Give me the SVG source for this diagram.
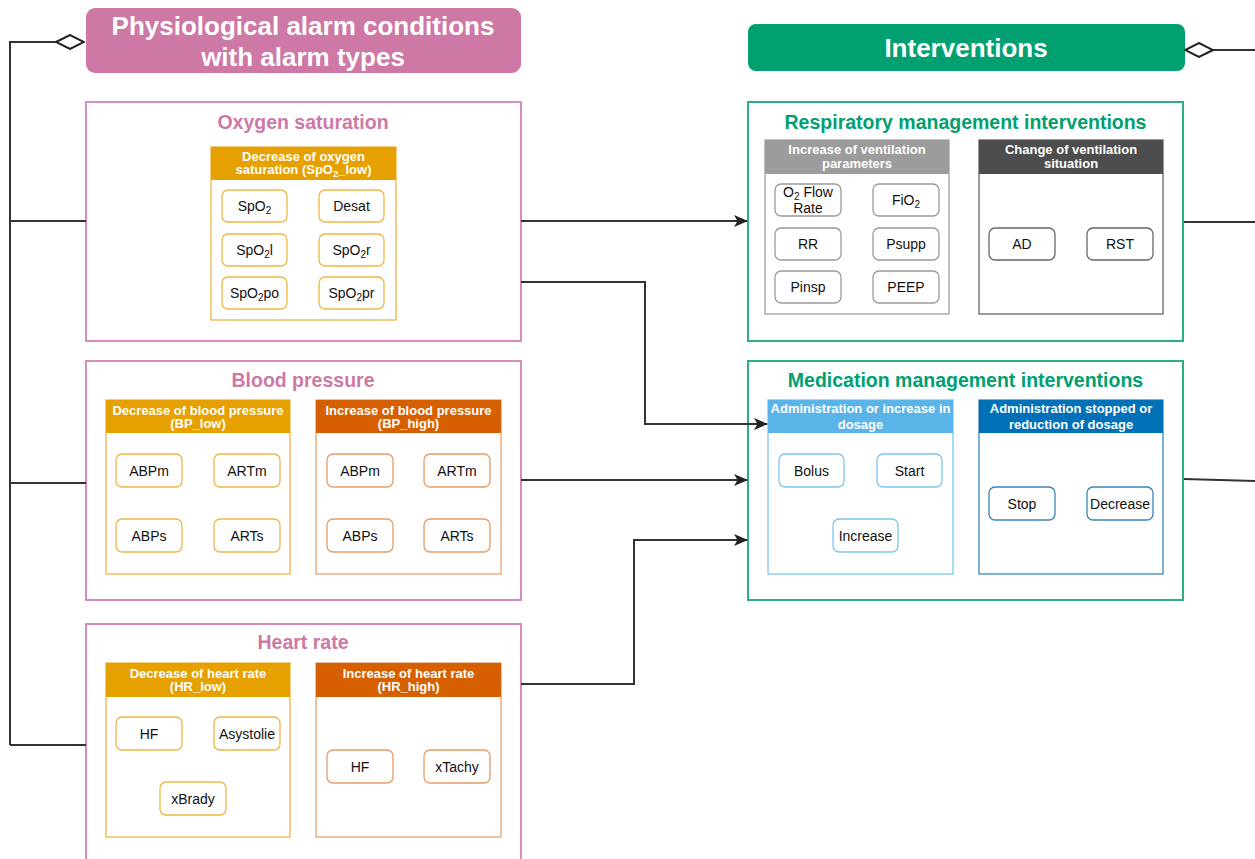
<svg xmlns="http://www.w3.org/2000/svg" width="1255" height="859" viewBox="0 0 1255 859">
  <style>
    text { font-family: "Liberation Sans", Arial, sans-serif; }
    .main-title { font-size: 26px; font-weight: bold; fill: #ffffff; text-anchor: middle; }
    .group-title { font-size: 19.5px; font-weight: bold; text-anchor: middle; }
    .pink-title { fill: #cd78a5; }
    .green-title { fill: #00a070; }
    .head { font-size: 13px; font-weight: bold; fill: #ffffff; text-anchor: middle; }
    .item { font-size: 14px; fill: #111111; text-anchor: middle; }
    .pink-frame { fill: #ffffff; stroke: #d98cba; stroke-width: 2; }
    .green-frame { fill: #ffffff; stroke: #2daf86; stroke-width: 2; }
    .conn { fill: none; stroke: #333333; stroke-width: 2; }
    .chip { fill: #ffffff; stroke-width: 1.3; }
    .c-orange { stroke: #f0b645; }
    .c-dorange { stroke: #e89a68; }
    .c-gray { stroke: #9a9a9a; }
    .c-dgray { stroke: #666666; }
    .c-lblue { stroke: #7cc6ee; }
    .c-dblue { stroke: #3a86bc; }
  </style>
  <defs>
    <marker id="arrow" viewBox="0 0 14 12" refX="13" refY="6" markerWidth="14" markerHeight="12" markerUnits="userSpaceOnUse" orient="auto">
      <path d="M0,0 L14,6 L0,12 L3.5,6 Z" fill="#222222"/>
    </marker>
    <marker id="diamond" viewBox="0 0 30 16" refX="29" refY="8" markerWidth="30" markerHeight="16" markerUnits="userSpaceOnUse" orient="auto">
      <path d="M1,8 L15,1 L29,8 L15,15 Z" fill="#ffffff" stroke="#222222" stroke-width="2"/>
    </marker>
  </defs>

  <!-- left heading -->
  <g id="alarm-conditions-header">
    <rect x="86" y="8" width="435" height="65" rx="9" fill="#cd78a5"/>
    <text class="main-title" x="303" y="35">Physiological alarm conditions</text>
    <text class="main-title" x="303" y="66">with alarm types</text>
  </g>

  <!-- right heading -->
  <g id="interventions-header">
    <rect x="748" y="24" width="437" height="47" rx="8" fill="#00a070"/>
    <text class="main-title" x="966" y="57">Interventions</text>
  </g>

  <!-- Oxygen saturation -->
  <g id="oxygen-saturation">
    <rect class="pink-frame" x="86" y="102" width="435" height="239"/>
    <text class="group-title pink-title" x="303" y="129">Oxygen saturation</text>
    <rect x="211" y="147" width="185" height="173" fill="#ffffff" stroke="#efb448" stroke-width="1.3"/>
    <rect x="211" y="147" width="185" height="33" fill="#e6a000"/>
    <text class="head" x="303.5" y="161">Decrease of oxygen</text>
    <text class="head" x="303.5" y="174">saturation (SpO<tspan font-size="9.5" dy="3">2</tspan><tspan dy="-3">_low)</tspan></text>
    <rect class="chip c-orange" x="222" y="190" width="65" height="32" rx="6"/>
    <text class="item" x="254.5" y="211">SpO<tspan font-size="10" dy="3">2</tspan></text>
    <rect class="chip c-orange" x="319" y="190" width="65" height="32" rx="6"/>
    <text class="item" x="351.5" y="211">Desat</text>
    <rect class="chip c-orange" x="222" y="234" width="65" height="32" rx="6"/>
    <text class="item" x="254.5" y="255">SpO<tspan font-size="10" dy="3">2</tspan><tspan dy="-3">l</tspan></text>
    <rect class="chip c-orange" x="319" y="234" width="65" height="32" rx="6"/>
    <text class="item" x="351.5" y="255">SpO<tspan font-size="10" dy="3">2</tspan><tspan dy="-3">r</tspan></text>
    <rect class="chip c-orange" x="222" y="277" width="65" height="32" rx="6"/>
    <text class="item" x="254.5" y="298">SpO<tspan font-size="10" dy="3">2</tspan><tspan dy="-3">po</tspan></text>
    <rect class="chip c-orange" x="319" y="277" width="65" height="32" rx="6"/>
    <text class="item" x="351.5" y="298">SpO<tspan font-size="10" dy="3">2</tspan><tspan dy="-3">pr</tspan></text>
  </g>

  <!-- Blood pressure -->
  <g id="blood-pressure">
    <rect class="pink-frame" x="86" y="361" width="435" height="239"/>
    <text class="group-title pink-title" x="303" y="387">Blood pressure</text>
    <rect x="106" y="400" width="184" height="174" fill="#ffffff" stroke="#efb448" stroke-width="1.3"/>
    <rect x="106" y="400" width="184" height="33" fill="#e6a000"/>
    <text class="head" x="198" y="415">Decrease of blood pressure</text>
    <text class="head" x="198" y="428">(BP_low)</text>
    <rect class="chip c-orange" x="116" y="454" width="66" height="33" rx="6"/>
    <text class="item" x="149" y="476">ABPm</text>
    <rect class="chip c-orange" x="214" y="454" width="66" height="33" rx="6"/>
    <text class="item" x="247" y="476">ARTm</text>
    <rect class="chip c-orange" x="116" y="519" width="66" height="33" rx="6"/>
    <text class="item" x="149" y="541">ABPs</text>
    <rect class="chip c-orange" x="214" y="519" width="66" height="33" rx="6"/>
    <text class="item" x="247" y="541">ARTs</text>

    <rect x="316" y="400" width="185" height="174" fill="#ffffff" stroke="#e8a070" stroke-width="1.3"/>
    <rect x="316" y="400" width="185" height="33" fill="#d66000"/>
    <text class="head" x="408.5" y="415">Increase of blood pressure</text>
    <text class="head" x="408.5" y="428">(BP_high)</text>
    <rect class="chip c-dorange" x="327" y="454" width="66" height="33" rx="6"/>
    <text class="item" x="360" y="476">ABPm</text>
    <rect class="chip c-dorange" x="424" y="454" width="66" height="33" rx="6"/>
    <text class="item" x="457" y="476">ARTm</text>
    <rect class="chip c-dorange" x="327" y="519" width="66" height="33" rx="6"/>
    <text class="item" x="360" y="541">ABPs</text>
    <rect class="chip c-dorange" x="424" y="519" width="66" height="33" rx="6"/>
    <text class="item" x="457" y="541">ARTs</text>
  </g>

  <!-- Heart rate -->
  <g id="heart-rate">
    <rect class="pink-frame" x="86" y="624" width="435" height="250"/>
    <text class="group-title pink-title" x="303" y="649">Heart rate</text>
    <rect x="106" y="663" width="184" height="174" fill="#ffffff" stroke="#efb448" stroke-width="1.3"/>
    <rect x="106" y="663" width="184" height="34" fill="#e6a000"/>
    <text class="head" x="198" y="678">Decrease of heart rate</text>
    <text class="head" x="198" y="691">(HR_low)</text>
    <rect class="chip c-orange" x="116" y="717" width="66" height="33" rx="6"/>
    <text class="item" x="149" y="739">HF</text>
    <rect class="chip c-orange" x="214" y="717" width="66" height="33" rx="6"/>
    <text class="item" x="247" y="739">Asystolie</text>
    <rect class="chip c-orange" x="160" y="782" width="66" height="33" rx="6"/>
    <text class="item" x="193" y="804">xBrady</text>

    <rect x="316" y="663" width="185" height="174" fill="#ffffff" stroke="#e8a070" stroke-width="1.3"/>
    <rect x="316" y="663" width="185" height="34" fill="#d66000"/>
    <text class="head" x="408.5" y="678">Increase of heart rate</text>
    <text class="head" x="408.5" y="691">(HR_high)</text>
    <rect class="chip c-dorange" x="327" y="750" width="66" height="33" rx="6"/>
    <text class="item" x="360" y="772">HF</text>
    <rect class="chip c-dorange" x="424" y="750" width="66" height="33" rx="6"/>
    <text class="item" x="457" y="772">xTachy</text>
  </g>

  <!-- Respiratory management -->
  <g id="respiratory-management">
    <rect class="green-frame" x="748" y="102" width="435" height="239"/>
    <text class="group-title green-title" x="965.5" y="129">Respiratory management interventions</text>
    <rect x="765" y="140" width="184" height="174" fill="#ffffff" stroke="#a0a0a0" stroke-width="1.3"/>
    <rect x="765" y="140" width="184" height="34" fill="#9c9c9c"/>
    <text class="head" x="857" y="154">Increase of ventilation</text>
    <text class="head" x="857" y="168">parameters</text>
    <rect class="chip c-gray" x="775" y="184" width="66" height="32" rx="6"/>
    <text class="item" x="808" y="197">O<tspan font-size="10" dy="3">2</tspan><tspan dy="-3"> Flow</tspan></text>
    <text class="item" x="808" y="213">Rate</text>
    <rect class="chip c-gray" x="873" y="184" width="66" height="32" rx="6"/>
    <text class="item" x="906" y="205">FiO<tspan font-size="10" dy="3">2</tspan></text>
    <rect class="chip c-gray" x="775" y="228" width="66" height="32" rx="6"/>
    <text class="item" x="808" y="249">RR</text>
    <rect class="chip c-gray" x="873" y="228" width="66" height="32" rx="6"/>
    <text class="item" x="906" y="249">Psupp</text>
    <rect class="chip c-gray" x="775" y="271" width="66" height="32" rx="6"/>
    <text class="item" x="808" y="292">Pinsp</text>
    <rect class="chip c-gray" x="873" y="271" width="66" height="32" rx="6"/>
    <text class="item" x="906" y="292">PEEP</text>

    <rect x="979" y="140" width="184" height="174" fill="#ffffff" stroke="#666666" stroke-width="1.3"/>
    <rect x="979" y="140" width="184" height="34" fill="#4d4d4d"/>
    <text class="head" x="1071" y="154">Change of ventilation</text>
    <text class="head" x="1071" y="168">situation</text>
    <rect class="chip c-dgray" x="989" y="228" width="66" height="32" rx="6"/>
    <text class="item" x="1022" y="249">AD</text>
    <rect class="chip c-dgray" x="1087" y="228" width="66" height="32" rx="6"/>
    <text class="item" x="1120" y="249">RST</text>
  </g>

  <!-- Medication management -->
  <g id="medication-management">
    <rect class="green-frame" x="748" y="361" width="435" height="239"/>
    <text class="group-title green-title" x="965.5" y="387">Medication management interventions</text>
    <rect x="768" y="400" width="185" height="174" fill="#ffffff" stroke="#7cc6ee" stroke-width="1.3"/>
    <rect x="768" y="400" width="185" height="33" fill="#5ab4e8"/>
    <text class="head" x="860.5" y="413">Administration or increase in</text>
    <text class="head" x="860.5" y="429">dosage</text>
    <rect class="chip c-lblue" x="779" y="454" width="65" height="33" rx="6"/>
    <text class="item" x="811.5" y="476">Bolus</text>
    <rect class="chip c-lblue" x="877" y="454" width="65" height="33" rx="6"/>
    <text class="item" x="909.5" y="476">Start</text>
    <rect class="chip c-lblue" x="833" y="519" width="65" height="33" rx="6"/>
    <text class="item" x="865.5" y="541">Increase</text>

    <rect x="979" y="400" width="184" height="174" fill="#ffffff" stroke="#3a86bc" stroke-width="1.3"/>
    <rect x="979" y="400" width="184" height="33" fill="#0071b7"/>
    <text class="head" x="1071" y="413">Administration stopped or</text>
    <text class="head" x="1071" y="429">reduction of dosage</text>
    <rect class="chip c-dblue" x="989" y="487" width="66" height="33" rx="6"/>
    <text class="item" x="1022" y="509">Stop</text>
    <rect class="chip c-dblue" x="1087" y="487" width="66" height="33" rx="6"/>
    <text class="item" x="1120" y="509">Decrease</text>
  </g>

  <!-- connectors, drawn last so arrowheads sit on top of the frames -->
  <g id="connectors">
    <path class="conn" d="M10,745 L10,42 L84,42" marker-end="url(#diamond)"/>
    <path class="conn" d="M86,221 L10,221"/>
    <path class="conn" d="M86,483 L10,483"/>
    <path class="conn" d="M86,745 L10,745"/>
    <path class="conn" d="M1255,50 L1185,50" marker-end="url(#diamond)"/>
    <path class="conn" d="M521,221 L747,221" marker-end="url(#arrow)"/>
    <path class="conn" d="M521,282 L645,282 L645,424 L767,424" marker-end="url(#arrow)"/>
    <path class="conn" d="M521,480 L747,480" marker-end="url(#arrow)"/>
    <path class="conn" d="M521,684 L634,684 L634,540 L747,540" marker-end="url(#arrow)"/>
    <path class="conn" d="M1184,222 L1255,222"/>
    <path class="conn" d="M1184,479 L1255,481"/>
  </g>
</svg>
